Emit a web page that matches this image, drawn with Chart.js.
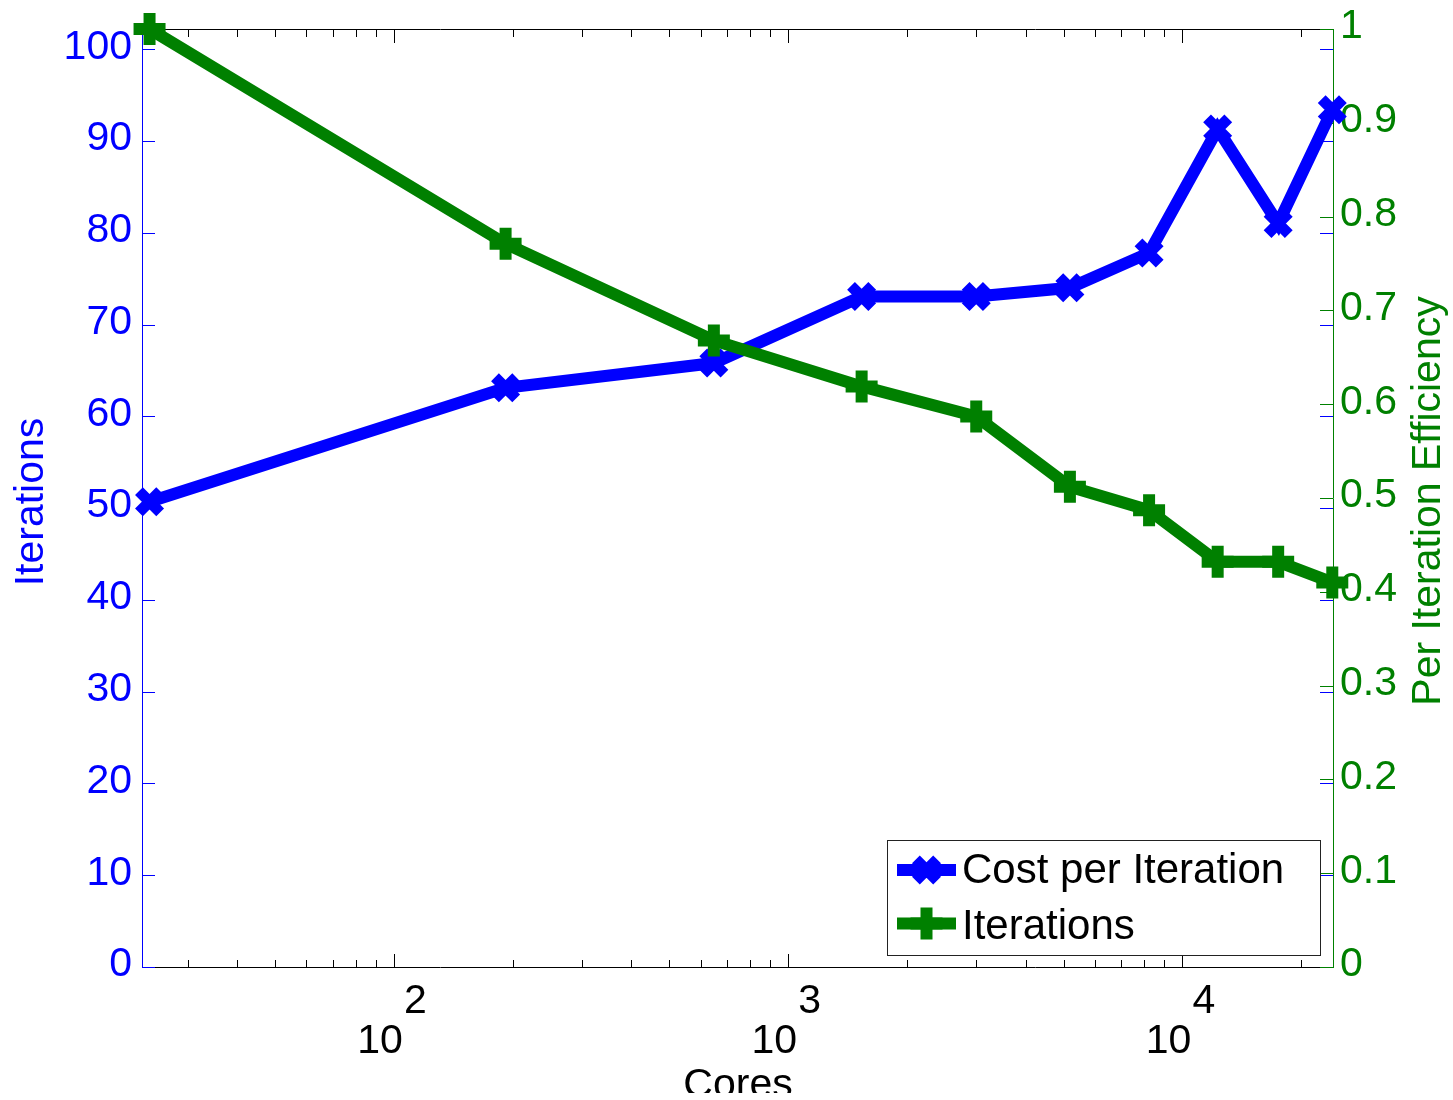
<!DOCTYPE html>
<html>
<head>
<meta charset="utf-8">
<script src="https://cdn.jsdelivr.net/npm/chart.js@4.4.1/dist/chart.umd.min.js"></script>
<style>
  html, body { margin: 0; padding: 0; background: #fff; }
  #wrap { width: 1453px; height: 1100px; position: relative; }
</style>
</head>
<body>
<div id="wrap"><canvas id="scalingChart"></canvas></div>
<script>
// cores per run (x, log scale)
const cores = [24, 192, 648, 1536, 3000, 5184, 8232, 12288, 17496, 24000];
// left axis (blue)
const costPerIteration = [50.7, 63.1, 65.8, 73.05, 73.05, 74, 77.8, 91.3, 81, 93.4];
// right axis (green)
const iterationEfficiency = [1.0, 0.771, 0.668, 0.619, 0.587, 0.512, 0.487, 0.432, 0.432, 0.41];

// axis ticks
const leftTicks = [0, 10, 20, 30, 40, 50, 60, 70, 80, 90, 100];
const rightTicks = [0, 0.1, 0.2, 0.3, 0.4, 0.5, 0.6, 0.7, 0.8, 0.9, 1];
const rightTickLabels = ['0', '0.1', '0.2', '0.3', '0.4', '0.5', '0.6', '0.7', '0.8', '0.9', '1'];
const xMajorTicks = [100, 1000, 10000];
const xMajorExp = ['2', '3', '4'];

const BLUE = '#0000ff';
const GREEN = '#008000';
const FONT = "'Liberation Sans', Arial, Helvetica, sans-serif";

// minor log ticks 2..9 per decade, inside the axis range
const xMin = 23.1, xMax = 24100;
const xMinorTicks = [];
for (let d = 10; d <= 10000; d *= 10) {
  for (let m = 2; m <= 9; m++) {
    const v = m * d;
    if (v > xMin && v < xMax) xMinorTicks.push(v);
  }
}

function drawMarker(ctx, style, cx, cy, r) {
  ctx.beginPath();
  if (style === 'cross') {
    ctx.moveTo(cx - r, cy); ctx.lineTo(cx + r, cy);
    ctx.moveTo(cx, cy - r); ctx.lineTo(cx, cy + r);
  } else {
    const k = r * Math.SQRT1_2;
    ctx.moveTo(cx - k, cy - k); ctx.lineTo(cx + k, cy + k);
    ctx.moveTo(cx - k, cy + k); ctx.lineTo(cx + k, cy - k);
  }
  ctx.stroke();
}

// keep the plot box fixed: no extra padding from the tick labels
function fixBox(s, size) {
  if (s.isHorizontal()) s.height = size; else s.width = size;
  s.paddingTop = 0; s.paddingBottom = 0;
  s.paddingLeft = 0; s.paddingRight = 0;
}

const matlabAxes = {
  id: 'matlabAxes',
  beforeDatasetsDraw(chart) {
    const { ctx, chartArea: a, scales } = chart;
    const x = scales.x, y = scales.y, y1 = scales.y1;
    ctx.save();
    ctx.lineWidth = 1;

    // black box top / bottom + x ticks
    ctx.strokeStyle = '#000';
    ctx.beginPath();
    ctx.moveTo(a.left, a.top + 0.5); ctx.lineTo(a.right, a.top + 0.5);
    ctx.moveTo(a.left, a.bottom + 0.5); ctx.lineTo(a.right, a.bottom + 0.5);
    xMinorTicks.forEach(v => {
      const px = Math.round(x.getPixelForValue(v)) + 0.5;
      ctx.moveTo(px, a.bottom); ctx.lineTo(px, a.bottom - 7);
      ctx.moveTo(px, a.top + 1); ctx.lineTo(px, a.top + 8);
    });
    xMajorTicks.forEach(v => {
      const px = Math.round(x.getPixelForValue(v)) + 0.5;
      ctx.moveTo(px, a.bottom); ctx.lineTo(px, a.bottom - 13);
      ctx.moveTo(px, a.top + 1); ctx.lineTo(px, a.top + 14);
    });
    ctx.stroke();

    // blue left axis, its ticks repeated on the right side
    ctx.strokeStyle = BLUE;
    ctx.beginPath();
    ctx.moveTo(a.left - 0.5, a.top); ctx.lineTo(a.left - 0.5, a.bottom + 1);
    leftTicks.forEach(v => {
      const py = Math.round(y.getPixelForValue(v)) + 0.5;
      ctx.moveTo(a.left, py); ctx.lineTo(a.left + 12, py);
      ctx.moveTo(a.right, py); ctx.lineTo(a.right - 13, py);
    });
    ctx.stroke();

    // green right axis
    ctx.strokeStyle = GREEN;
    ctx.beginPath();
    ctx.moveTo(a.right + 0.5, a.top); ctx.lineTo(a.right + 0.5, a.bottom + 1);
    rightTicks.forEach(v => {
      const py = Math.round(y1.getPixelForValue(v)) + 0.5;
      ctx.moveTo(a.right, py); ctx.lineTo(a.right - 13, py);
    });
    ctx.stroke();

    // x tick labels: "10" with exponent above right
    ctx.fillStyle = '#000';
    ctx.font = '41px ' + FONT;
    ctx.textBaseline = 'alphabetic';
    xMajorTicks.forEach((v, i) => {
      const px = x.getPixelForValue(v);
      ctx.textAlign = 'right';
      ctx.fillText('10', px + 9, a.bottom + 86);
      ctx.textAlign = 'left';
      ctx.fillText(xMajorExp[i], px + 10, a.bottom + 46);
    });

    // x title, cut at the bottom like the original
    ctx.save();
    ctx.beginPath();
    ctx.rect(0, 0, chart.width, a.bottom + 126);
    ctx.clip();
    ctx.textAlign = 'center';
    ctx.fillText('Cores', (a.left + a.right) / 2, a.bottom + 130);
    ctx.restore();

    // y titles
    ctx.textAlign = 'center';
    ctx.save();
    ctx.translate(43, a.top + 473);
    ctx.rotate(-Math.PI / 2);
    ctx.fillStyle = BLUE;
    ctx.fillText('Iterations', 0, 0);
    ctx.restore();

    ctx.save();
    ctx.translate(1440, a.top + 472);
    ctx.rotate(-Math.PI / 2);
    ctx.fillStyle = GREEN;
    ctx.fillText('Per Iteration Efficiency', 0, 0);
    ctx.restore();

    ctx.restore();
  },
  afterDraw(chart) {
    const { ctx } = chart;
    const bx = 887.5, by = 840.5, bw = 433, bh = 115;
    ctx.save();
    ctx.fillStyle = '#fff';
    ctx.fillRect(bx, by, bw, bh);
    ctx.strokeStyle = '#222';
    ctx.lineWidth = 1;
    ctx.strokeRect(bx, by, bw, bh);

    const rows = [870, 923.5];
    const baselines = [883, 939];
    chart.data.datasets.forEach((ds, i) => {
      const yy = rows[i];
      ctx.strokeStyle = ds.borderColor;
      ctx.lineWidth = ds.borderWidth;
      ctx.beginPath();
      ctx.moveTo(897, yy); ctx.lineTo(956, yy);
      ctx.stroke();
      ctx.lineWidth = ds.pointBorderWidth;
      drawMarker(ctx, ds.pointStyle, 926.5, yy, ds.pointRadius);
      ctx.fillStyle = '#000';
      ctx.font = '42px ' + FONT;
      ctx.textAlign = 'left';
      ctx.textBaseline = 'alphabetic';
      ctx.fillText(ds.label, 962, baselines[i]);
    });
    ctx.restore();
  }
};

const ctx = document.getElementById('scalingChart').getContext('2d');
new Chart(ctx, {
  type: 'line',
  data: {
    datasets: [
      {
        label: 'Cost per Iteration',
        data: cores.map((c, i) => ({ x: c, y: costPerIteration[i] })),
        yAxisID: 'y',
        borderColor: BLUE,
        backgroundColor: BLUE,
        borderWidth: 12,
        pointStyle: 'crossRot',
        pointRadius: 15,
        pointHoverRadius: 15,
        pointBorderWidth: 11,
        pointBorderColor: BLUE,
        clip: false,
        order: 1
      },
      {
        label: 'Iterations',
        data: cores.map((c, i) => ({ x: c, y: iterationEfficiency[i] })),
        yAxisID: 'y1',
        borderColor: GREEN,
        backgroundColor: GREEN,
        borderWidth: 12,
        pointStyle: 'cross',
        pointRadius: 16,
        pointHoverRadius: 16,
        pointBorderWidth: 12,
        pointBorderColor: GREEN,
        clip: false,
        order: 0
      }
    ]
  },
  options: {
    responsive: true,
    maintainAspectRatio: false,
    animation: false,
    events: [],
    layout: { padding: { top: 29, left: 0, right: 0, bottom: 0 } },
    plugins: {
      legend: { display: false },
      tooltip: { enabled: false }
    },
    scales: {
      x: {
        type: 'logarithmic',
        position: 'bottom',
        min: xMin,
        max: xMax,
        grid: { display: false, drawTicks: false },
        border: { display: false },
        ticks: { display: false },
        afterFit: s => fixBox(s, 133)
      },
      y: {
        type: 'linear',
        position: 'left',
        min: 0,
        max: 102.2,
        afterBuildTicks: s => { s.ticks = leftTicks.map(v => ({ value: v })); },
        ticks: {
          color: BLUE,
          font: { family: FONT, size: 41 },
          padding: 11,
          labelOffset: -2
        },
        grid: { display: false, drawTicks: false },
        border: { display: false },
        afterFit: s => fixBox(s, 143)
      },
      y1: {
        type: 'linear',
        position: 'right',
        min: 0,
        max: 1,
        afterBuildTicks: s => { s.ticks = rightTicks.map(v => ({ value: v })); },
        ticks: {
          color: GREEN,
          font: { family: FONT, size: 41 },
          padding: 7,
          labelOffset: -2,
          callback: (v, i) => rightTickLabels[i]
        },
        grid: { display: false, drawTicks: false },
        border: { display: false },
        afterFit: s => fixBox(s, 120)
      }
    }
  },
  plugins: [matlabAxes]
});
</script>
</body>
</html>
